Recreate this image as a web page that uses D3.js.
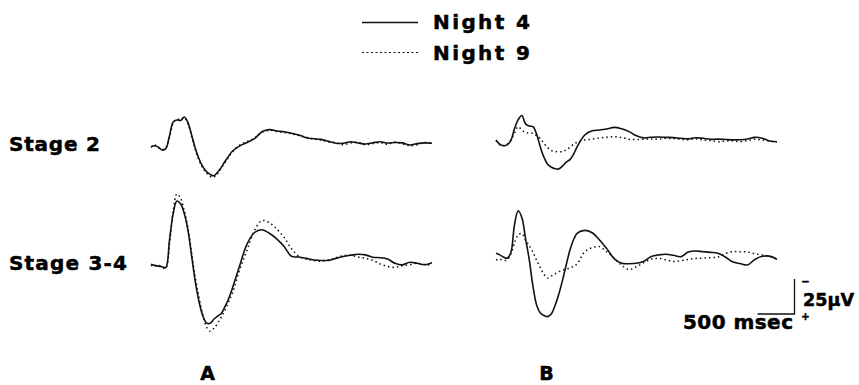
<!DOCTYPE html>
<html>
<head>
<meta charset="utf-8">
<script src="https://cdn.jsdelivr.net/npm/d3@7"></script>
<style>
  html, body { margin: 0; padding: 0; background: #fff; }
  svg text { font-family: "DejaVu Sans", sans-serif; font-weight: bold; fill: #000; stroke: #000; stroke-width: 0.5; }
</style>
</head>
<body>
<div id="chart"></div>
<script>
//Tiempos (ms desde el estímulo)
const times = [-200,-150,-100,-50,0,50,100,150,200,250,300,350,400,450,500,550,600,650,700,750,800,850,900,
    1000,1100,1200,1300,1400,1500,1600,1700,1800,1900,2000,2100,2200,2300,2400,2500,2600,2700,2800,2900,3000,3100,3200,3300,3400,3500,3600];

//Voltajes en µV (negativo hacia arriba)
const stage2A_night4 = [1.2,0.5,1.5,3.6,2.6,-6.5,-16.5,-17.8,-17.5,-20,-16,-7,2.5,10,15.5,19,21,22,19.5,16,11.8,8,4.5,
    0.6,-1.8,-4.5,-9.5,-11,-10,-9.5,-8.4,-7.2,-5.2,-4.5,-4,-2.6,-1.3,-1.2,-2.3,-1.4,-0.7,-1.6,-2.3,-1.4,-1.8,-1.5,0,-1,-1.5,-1.2];
const stage2A_night9 = [1.6,0,2,3.2,2,-6,-15.5,-18.5,-18,-19.5,-15,-6,3.5,11,16.5,20,22.5,23,20.5,16.5,12.5,8.5,5,
    0,-2.5,-5,-9,-10.5,-9.7,-9,-8,-6.8,-5.5,-4.2,-3.5,-2.3,-1.8,-0.2,-1.5,-2,-0.2,-1,-1.6,-0.5,-2.2,-0.8,0.5,-0.2,-1.8,-1];
const stage2B_night4 = [0,3,4.1,3.5,0.5,-8,-14.5,-17.5,-11.5,-10,-9.5,-4,5,12.5,17.5,19.5,20.5,20.7,18.5,15.8,14,10,4.5,
    -3.6,-6.6,-7.1,-7.9,-9,-8,-6,-3,-1.5,-2,-2.1,-1.9,-1.7,-1.2,-0.8,-1.6,-1.2,-0.5,-0.6,-0.4,-0.1,-0.2,-0.7,-1.9,-1.3,0.7,1.2];
const stage2B_night9 = [0.5,3.5,4,3,0,-5,-9.5,-7,-5.5,-4.8,-4.8,-3,-1,2.5,5.5,7.6,8.2,8.4,8.3,7,5.2,3,1.6,
    0,-0.6,-1.4,-2,-2.4,-1.8,-0.5,-0.4,-0.6,-0.8,-0.6,-1.2,-1,-0.4,-0.2,-0.8,0,0.4,1.2,0.8,0.5,1.2,0.4,-0.5,0,0.8,1.2];
const stage34A_night4 = [0.2,1,1.5,2,2.5,-17,-36,-45,-43,-36,-24,-5.5,13,27,37,42,42.4,39.5,37.2,35.3,30.5,24.8,17.5,
    1,-14.4,-22.5,-24.5,-22,-18,-12.5,-5.5,-5,-4,-2.9,-2.5,-2.6,-4,-5.3,-6.2,-7,-6.5,-4.8,-4.5,-3.5,-0.5,0.6,-1.2,-0.5,0.5,-0.9];
const stage34A_night9 = [1,1.8,0.5,2.5,3,-14,-38,-50,-47,-38,-26,-8,10,24,36,45,48,46,42.5,38,33,27,21,
    4,-10,-24,-31,-29.5,-25,-19,-11,-5.5,-3.5,-2.5,-2,-2.8,-4.5,-6,-6.2,-5,-4,-2.6,0,1.8,2.4,1.2,0.5,-0.5,0.4,0.7];
const stage34B_night4 = [-2.6,-1.5,0,0.9,-3,-23,-33,-28,-13,2,21,34.5,40,41.8,42.6,40.5,34.5,26.5,16.5,5.5,-5,-12.5,-17,
    -19,-17.3,-12.2,-5.8,1.3,4.5,4.8,4.5,3,-0.3,-1.5,-2,-1.2,-0.2,-3.5,-4.3,-3.8,-3.3,-2.7,0,3.4,4.7,5.7,1.8,-0.5,-0.6,1.6];
const stage34B_night9 = [2.1,1.5,2.5,2.1,-2,-10,-15.8,-16.8,-12,-8,-3.5,2.4,7.6,12.5,15,13.5,12,10.5,9.5,8.5,8,6.5,4.8,
    -3.8,-6.6,-7.4,-3.6,0.8,6,9,6.9,4,1.5,1,2,3.2,2.6,1.8,1,0.8,0.4,0,-2.5,-3.8,-3.8,-3.6,-2.3,-1.5,-0.4,1.6];

//Etiquetas
const nightLabels = ['Night 4', 'Night 9'];
const stageLabels = ['Stage 2', 'Stage 3-4'];
const columnLabels = ['A', 'B'];
const scaleTime = 500, scaleVolt = 25;

let width = 859, height = 385;

let svg = d3.select('#chart')
    .append('svg')
    .attr('width', width)
    .attr('height', height);

//Escalas de tiempo por columna
let xA = d3.scaleLinear().domain([-200, 3600]).range([151, 432]);
let xB = d3.scaleLinear().domain([-200, 3600]).range([496, 777]);

//Escala de voltaje (1.4 px por µV, negativo hacia arriba)
function yScale(base) {
    return d3.scaleLinear().domain([-50, 50]).range([base - 70, base + 70]);
}

let panels = [
    { x: xA, y: yScale(145), n4: stage2A_night4, n9: stage2A_night9 },
    { x: xB, y: yScale(140), n4: stage2B_night4, n9: stage2B_night9 },
    { x: xA, y: yScale(264), n4: stage34A_night4, n9: stage34A_night9 },
    { x: xB, y: yScale(257), n4: stage34B_night4, n9: stage34B_night9 }
];

panels.forEach(function(p) {
    let line = d3.line()
        .x(function(d, i) { return p.x(times[i]); })
        .y(function(d) { return p.y(d); })
        .curve(d3.curveCatmullRom.alpha(0.5));

    svg.append('path')
        .datum(p.n9)
        .attr('d', line)
        .attr('fill', 'none')
        .attr('stroke', '#111')
        .attr('stroke-width', 1.5)
        .attr('stroke-dasharray', '1.5,3');

    svg.append('path')
        .datum(p.n4)
        .attr('d', line)
        .attr('fill', 'none')
        .attr('stroke', '#111')
        .attr('stroke-width', 1.6);
});

//Leyenda
svg.append('line')
    .attr('x1', 362).attr('x2', 418).attr('y1', 22.5).attr('y2', 22.5)
    .attr('stroke', '#111').attr('stroke-width', 1.3);
svg.append('line')
    .attr('x1', 362).attr('x2', 418).attr('y1', 52.5).attr('y2', 52.5)
    .attr('stroke', '#111').attr('stroke-width', 1).attr('stroke-dasharray', '2,2.5');

svg.selectAll('.legend-text')
    .data(nightLabels)
    .enter()
    .append('text')
    .attr('class', 'legend-text')
    .attr('x', 433)
    .attr('y', function(d, i) { return i == 0 ? 29 : 59.5; })
    .attr('font-size', 20)
    .attr('textLength', 97)
    .attr('lengthAdjust', 'spacing')
    .text(function(d) { return d; });

//Etiquetas de fase
svg.selectAll('.stage-text')
    .data(stageLabels)
    .enter()
    .append('text')
    .attr('class', 'stage-text')
    .attr('x', 9)
    .attr('y', function(d, i) { return i == 0 ? 150.5 : 269.5; })
    .attr('font-size', 20)
    .attr('textLength', function(d, i) { return i == 0 ? 91 : 118; })
    .attr('lengthAdjust', 'spacing')
    .text(function(d) { return d; });

svg.selectAll('.col-text')
    .data(columnLabels)
    .enter()
    .append('text')
    .attr('class', 'col-text')
    .attr('x', function(d, i) { return i == 0 ? 207.5 : 546.5; })
    .attr('y', 380)
    .attr('text-anchor', 'middle')
    .attr('font-size', 19)
    .text(function(d) { return d; });

//Barra de escala
let barX = 794.5, barY = 314;
let dx = xA(scaleTime) - xA(0);
let dy = panels[0].y(scaleVolt) - panels[0].y(0);

svg.append('path')
    .attr('d', 'M' + (barX - dx) + ',' + barY + 'H' + barX + 'V' + (barY - dy))
    .attr('fill', 'none')
    .attr('stroke', '#111')
    .attr('stroke-width', 1.3);

svg.append('text')
    .attr('x', 683).attr('y', 329)
    .attr('font-size', 20)
    .attr('textLength', 110)
    .attr('lengthAdjust', 'spacing')
    .text(scaleTime + ' msec');

svg.append('text')
    .attr('x', 803).attr('y', 306)
    .attr('font-size', 17)
    .attr('textLength', 51)
    .attr('lengthAdjust', 'spacingAndGlyphs')
    .text(scaleVolt + 'µV');

svg.append('text')
    .attr('x', 805.5).attr('y', 284.5)
    .attr('text-anchor', 'middle')
    .attr('font-size', 10)
    .text('−');

svg.append('text')
    .attr('x', 805.5).attr('y', 320)
    .attr('text-anchor', 'middle')
    .attr('font-size', 10)
    .text('+');
</script>
</body>
</html>
